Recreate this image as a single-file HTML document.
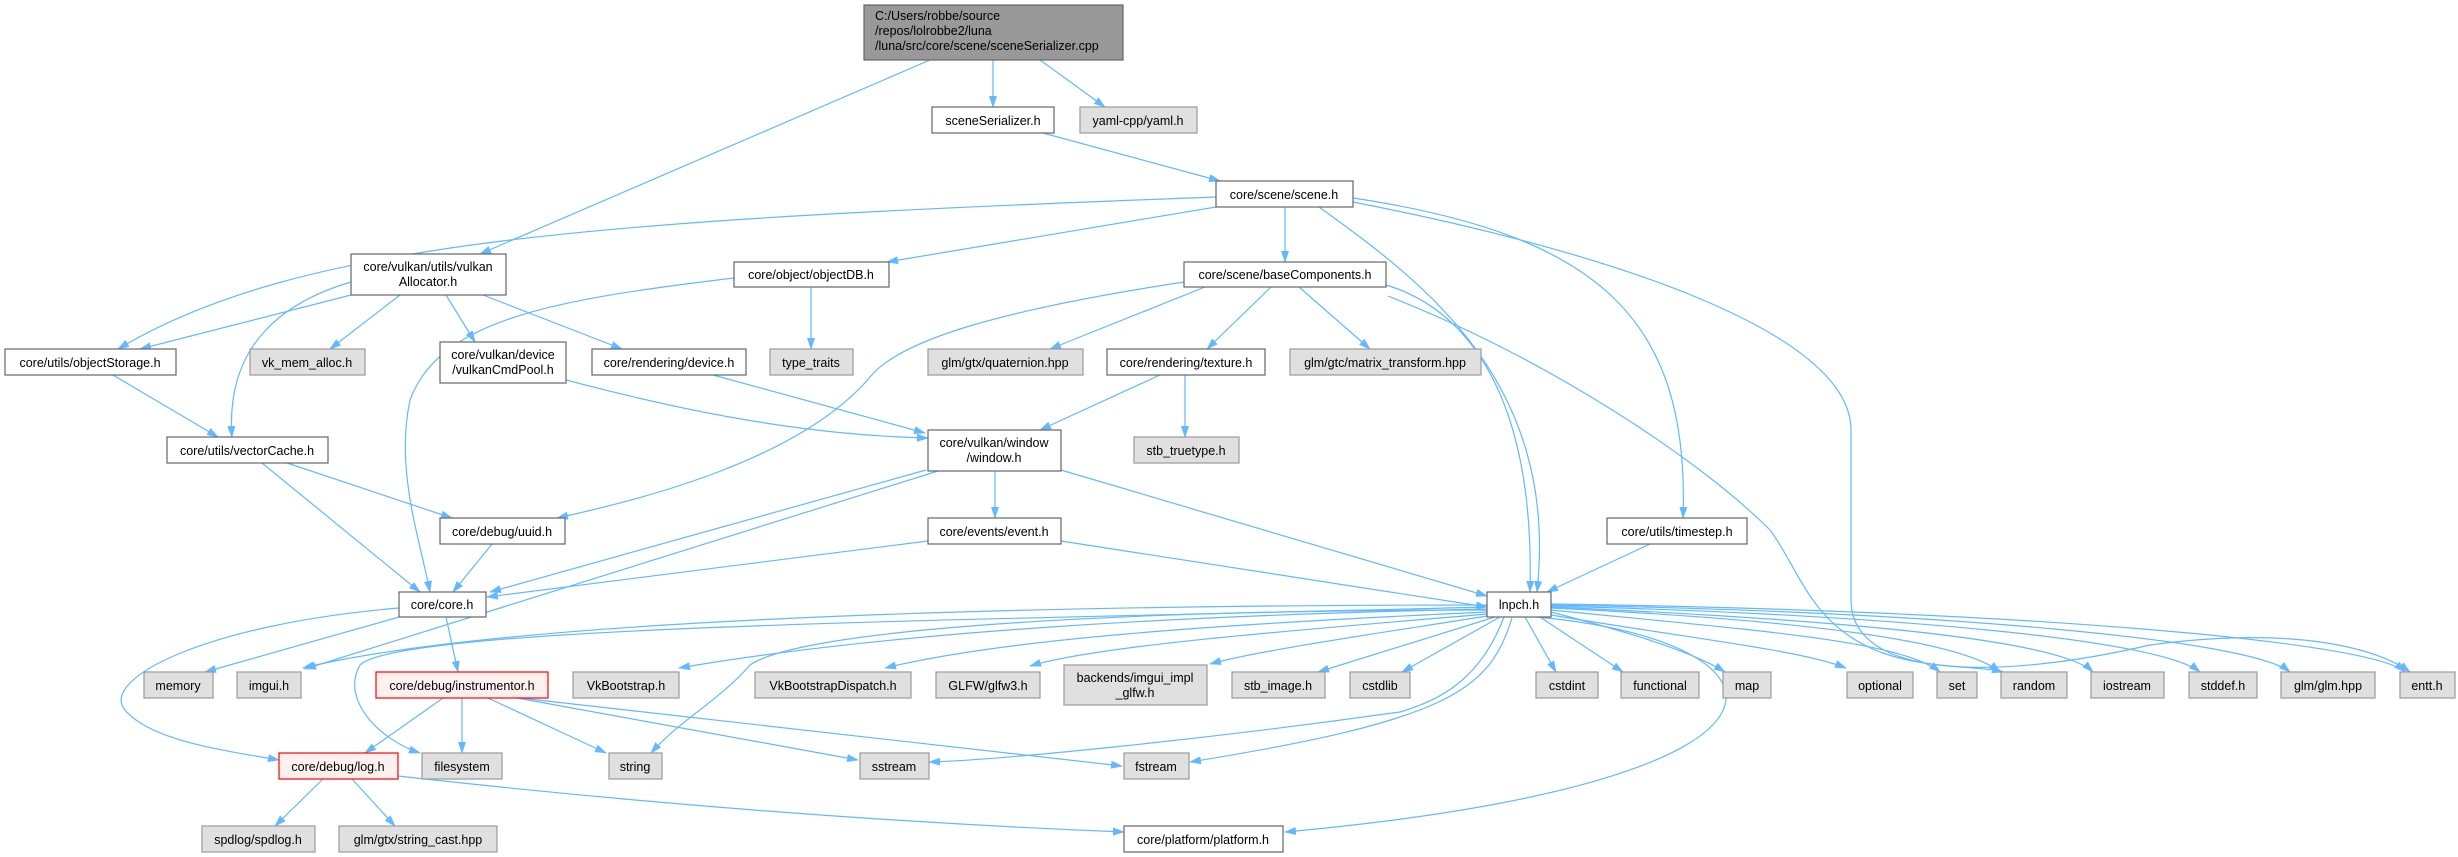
<!DOCTYPE html>
<html><head><meta charset="utf-8"><style>
html,body{margin:0;padding:0;background:#fff;}
svg{display:block;}
text{font-family:"Liberation Sans",sans-serif;font-size:12.5px;fill:#000;}
.w{fill:#fff;stroke:#666;stroke-width:1.2}
.g{fill:#e0e0e0;stroke:#999;stroke-width:1.2}
.r{fill:#fff0f0;stroke:#f00;stroke-width:1.2}
.e{fill:none;stroke:#63b8ff;stroke-width:1.2}
</style></head><body>
<svg width="2458" height="857" viewBox="0 0 2458 857" xmlns="http://www.w3.org/2000/svg">
<defs><marker id="a" markerWidth="12" markerHeight="8" refX="11" refY="4" orient="auto" markerUnits="userSpaceOnUse"><path d="M0,0 L12,4 L0,8 z" fill="#63b8ff"/></marker></defs>
<g class="e" marker-end="url(#a)">
<path d="M930,60 L480,254"/>
<path d="M993,60 L993,107"/>
<path d="M1040,60 L1105,107"/>
<path d="M1043,133 L1220,181"/>
<path d="M1216,197 C600,220 300,240 118,349"/>
<path d="M1216,207 L887,262"/>
<path d="M1285,207 L1285,262"/>
<path d="M1319,207 C1420,280 1560,380 1537,592"/>
<path d="M1353,198 C1600,235 1690,320 1683,518"/>
<path d="M1353,202 C1600,250 1851,330 1851,430 L1851,600 C1851,680 2000,680 2150,645 C2300,625 2380,650 2410,672"/>
<path d="M1386,285 C1470,310 1535,400 1530,592"/>
<path d="M1388,296 C1550,360 1700,460 1770,530 C1800,570 1810,625 1880,652 C1930,670 1975,665 2003,672"/>
<path d="M1205,287 L1050,349"/>
<path d="M1271,287 L1207,349"/>
<path d="M1299,287 L1370,349"/>
<path d="M1184,282 C1000,310 900,340 870,377 C800,460 640,500 557,518"/>
<path d="M811,287 L811,349"/>
<path d="M734,278 C550,300 440,320 410,400 C395,470 420,540 430,592"/>
<path d="M351,295 L140,349"/>
<path d="M351,282 C290,300 225,340 232,437"/>
<path d="M400,295 L330,349"/>
<path d="M446,295 L475,342"/>
<path d="M483,295 L622,349"/>
<path d="M113,375 L218,437"/>
<path d="M566,380 C680,410 800,435 928,438"/>
<path d="M713,375 L925,433"/>
<path d="M1160,375 L1040,430"/>
<path d="M1185,375 L1185,437"/>
<path d="M287,463 L452,518"/>
<path d="M262,463 L420,592"/>
<path d="M492,544 L453,592"/>
<path d="M926,470 L490,592"/>
<path d="M938,471 L305,669"/>
<path d="M995,471 L995,518"/>
<path d="M1061,470 L1487,596"/>
<path d="M928,541 L487,597"/>
<path d="M1061,541 L1487,607"/>
<path d="M1650,544 L1547,592"/>
<path d="M399,617 L205,672"/>
<path d="M446,617 L458,672"/>
<path d="M399,608 C200,625 100,680 125,710 C150,740 220,750 279,760"/>
<path d="M443,698 L365,753"/>
<path d="M462,698 L462,753"/>
<path d="M488,698 L606,753"/>
<path d="M517,698 L858,760"/>
<path d="M520,698 L1122,766"/>
<path d="M323,779 L275,826"/>
<path d="M352,779 L395,826"/>
<path d="M398,776 C700,810 950,825 1124,832"/>
<path d="M1487,605 C1000,605 500,620 303,668"/>
<path d="M1487,607 C1000,620 400,625 360,665 C340,700 380,740 420,753"/>
<path d="M1487,610 C1100,610 800,630 750,665 C720,700 680,720 651,753"/>
<path d="M1487,609 C1200,615 900,630 679,668"/>
<path d="M1487,612 C1200,625 1000,640 885,668"/>
<path d="M1487,614 C1300,630 1100,645 1030,666"/>
<path d="M1487,616 C1400,630 1260,650 1210,664"/>
<path d="M1495,617 L1318,672"/>
<path d="M1500,617 L1402,672"/>
<path d="M1504,617 C1480,680 1440,700 1400,712 C1200,740 1000,760 929,762"/>
<path d="M1512,618 C1490,690 1450,720 1190,762"/>
<path d="M1536,617 C1800,640 1850,780 1285,832"/>
<path d="M1525,617 L1556,672"/>
<path d="M1540,617 L1623,672"/>
<path d="M1551,612 C1620,630 1690,650 1725,672"/>
<path d="M1551,615 C1700,640 1800,650 1846,668"/>
<path d="M1551,610 C1750,630 1900,640 1940,672"/>
<path d="M1551,608 C1800,620 1960,640 2000,672"/>
<path d="M1551,607 C1850,620 2060,640 2093,672"/>
<path d="M1551,606 C1900,615 2160,640 2200,672"/>
<path d="M1551,605 C1950,612 2250,640 2290,672"/>
<path d="M1551,604 C2000,610 2370,640 2405,672"/>
</g>
<rect x="864" y="5" width="259" height="55" fill="#999" stroke="#666" stroke-width="1.2"/>
<text x="875" y="20">C:/Users/robbe/source</text>
<text x="875" y="35">/repos/lolrobbe2/luna</text>
<text x="875" y="50">/luna/src/core/scene/sceneSerializer.cpp</text>
<g text-anchor="middle">
<rect class="w" x="932" y="107" width="122" height="26"/><text x="993" y="125">sceneSerializer.h</text>
<rect class="g" x="1080" y="107" width="117" height="26"/><text x="1138" y="125">yaml-cpp/yaml.h</text>
<rect class="w" x="1216" y="181" width="137" height="26"/><text x="1284" y="199">core/scene/scene.h</text>
<rect class="w" x="351" y="254" width="155" height="41"/><text x="428" y="271">core/vulkan/utils/vulkan</text><text x="428" y="286">Allocator.h</text>
<rect class="w" x="734" y="262" width="155" height="25"/><text x="811" y="279">core/object/objectDB.h</text>
<rect class="w" x="1184" y="262" width="202" height="25"/><text x="1285" y="279">core/scene/baseComponents.h</text>
<rect class="w" x="5" y="349" width="171" height="26"/><text x="90" y="367">core/utils/objectStorage.h</text>
<rect class="g" x="250" y="349" width="115" height="26"/><text x="307" y="367">vk_mem_alloc.h</text>
<rect class="w" x="440" y="342" width="126" height="41"/><text x="503" y="359">core/vulkan/device</text><text x="503" y="374">/vulkanCmdPool.h</text>
<rect class="w" x="592" y="349" width="154" height="26"/><text x="669" y="367">core/rendering/device.h</text>
<rect class="g" x="770" y="349" width="83" height="26"/><text x="811" y="367">type_traits</text>
<rect class="g" x="928" y="349" width="155" height="26"/><text x="1005" y="367">glm/gtx/quaternion.hpp</text>
<rect class="w" x="1107" y="349" width="158" height="26"/><text x="1186" y="367">core/rendering/texture.h</text>
<rect class="g" x="1290" y="349" width="191" height="26"/><text x="1385" y="367">glm/gtc/matrix_transform.hpp</text>
<rect class="w" x="167" y="437" width="161" height="26"/><text x="247" y="455">core/utils/vectorCache.h</text>
<rect class="w" x="928" y="430" width="133" height="41"/><text x="994" y="447">core/vulkan/window</text><text x="994" y="462">/window.h</text>
<rect class="g" x="1134" y="437" width="105" height="26"/><text x="1186" y="455">stb_truetype.h</text>
<rect class="w" x="440" y="518" width="125" height="26"/><text x="502" y="536">core/debug/uuid.h</text>
<rect class="w" x="928" y="518" width="133" height="26"/><text x="994" y="536">core/events/event.h</text>
<rect class="w" x="1607" y="518" width="140" height="26"/><text x="1677" y="536">core/utils/timestep.h</text>
<rect class="w" x="399" y="592" width="87" height="25"/><text x="442" y="609">core/core.h</text>
<rect class="w" x="1487" y="592" width="64" height="25"/><text x="1519" y="609">lnpch.h</text>
<rect class="g" x="144" y="672" width="69" height="26"/><text x="178" y="690">memory</text>
<rect class="g" x="237" y="672" width="64" height="26"/><text x="269" y="690">imgui.h</text>
<rect class="r" x="376" y="672" width="172" height="26"/><text x="462" y="690">core/debug/instrumentor.h</text>
<rect class="g" x="573" y="672" width="106" height="26"/><text x="626" y="690">VkBootstrap.h</text>
<rect class="g" x="755" y="672" width="156" height="26"/><text x="833" y="690">VkBootstrapDispatch.h</text>
<rect class="g" x="936" y="672" width="104" height="26"/><text x="988" y="690">GLFW/glfw3.h</text>
<rect class="g" x="1064" y="665" width="143" height="40"/><text x="1135" y="682">backends/imgui_impl</text><text x="1135" y="697">_glfw.h</text>
<rect class="g" x="1232" y="672" width="93" height="26"/><text x="1278" y="690">stb_image.h</text>
<rect class="g" x="1350" y="672" width="60" height="26"/><text x="1380" y="690">cstdlib</text>
<rect class="g" x="1536" y="672" width="62" height="26"/><text x="1567" y="690">cstdint</text>
<rect class="g" x="1621" y="672" width="78" height="26"/><text x="1660" y="690">functional</text>
<rect class="g" x="1723" y="672" width="48" height="26"/><text x="1747" y="690">map</text>
<rect class="g" x="1847" y="672" width="66" height="26"/><text x="1880" y="690">optional</text>
<rect class="g" x="1937" y="672" width="40" height="26"/><text x="1957" y="690">set</text>
<rect class="g" x="2001" y="672" width="66" height="26"/><text x="2034" y="690">random</text>
<rect class="g" x="2091" y="672" width="73" height="26"/><text x="2127" y="690">iostream</text>
<rect class="g" x="2189" y="672" width="68" height="26"/><text x="2223" y="690">stddef.h</text>
<rect class="g" x="2281" y="672" width="94" height="26"/><text x="2328" y="690">glm/glm.hpp</text>
<rect class="g" x="2400" y="672" width="55" height="26"/><text x="2427" y="690">entt.h</text>
<rect class="r" x="279" y="753" width="119" height="26"/><text x="338" y="771">core/debug/log.h</text>
<rect class="g" x="422" y="753" width="80" height="26"/><text x="462" y="771">filesystem</text>
<rect class="g" x="609" y="753" width="53" height="26"/><text x="635" y="771">string</text>
<rect class="g" x="860" y="753" width="69" height="26"/><text x="894" y="771">sstream</text>
<rect class="g" x="1124" y="753" width="65" height="26"/><text x="1156" y="771">fstream</text>
<rect class="g" x="202" y="826" width="113" height="26"/><text x="258" y="844">spdlog/spdlog.h</text>
<rect class="g" x="339" y="826" width="158" height="26"/><text x="418" y="844">glm/gtx/string_cast.hpp</text>
<rect class="w" x="1124" y="826" width="159" height="26"/><text x="1203" y="844">core/platform/platform.h</text>
</g>
</svg>
</body></html>
